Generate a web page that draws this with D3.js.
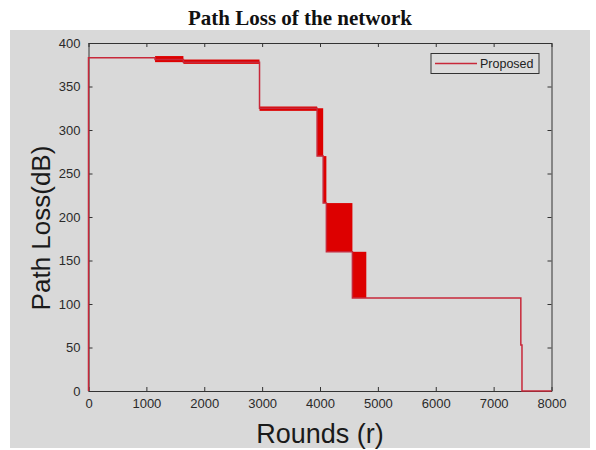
<!DOCTYPE html>
<html><head><meta charset="utf-8">
<script src="https://cdn.jsdelivr.net/npm/d3@7"></script>
<style>body{margin:0;background:#fff}svg{display:block}</style>
</head><body>
<svg id="c" width="596" height="450"></svg>
<script>
// ---- data ----
const xTicks = [0,1000,2000,3000,4000,5000,6000,7000,8000];
const yTicks = [0,50,100,150,200,250,300,350,400];
// thin step line (Proposed) vertices
const lineRounds = [0, 0, 1150, 1150, 1640, 1640, 2955, 2955, 3950, 3950, 4055, 4055, 4110, 4110, 4560, 4560, 4800, 7470, 7470, 7490, 7490, 8000];
const lineValues = [0, 383, 383, 381, 381, 378, 378, 325, 325, 270, 270, 216, 216, 160, 160, 107, 107, 107, 53, 53, 0, 0];
// regions where the series oscillates rapidly (drawn as filled bands)
const bandStart = [1150, 1640, 2955, 3950, 4055, 4110, 4560];
const bandEnd   = [1640, 2955, 3950, 4055, 4110, 4560, 4800];
const bandHigh  = [385, 381, 327, 325, 270, 216, 160];
const bandLow   = [378, 376, 322, 270, 216, 160, 107];
const seriesName = "Proposed";

const svg = d3.select("#c");
const L = 88.5, R = 551.5, T = 43, B = 391;
const x = d3.scaleLinear().domain([0,8000]).range([L,R]);
const y = d3.scaleLinear().domain([0,400]).range([B,T]);

svg.append("rect").attr("x",10).attr("y",30).attr("width",580).attr("height",418).attr("fill","#d9d9d9");

svg.append("text").attr("x",300).attr("y",25).attr("text-anchor","middle")
  .attr("font-family","Liberation Serif, Times New Roman, serif").attr("font-weight","bold")
  .attr("font-size",21).attr("fill","#111").text("Path Loss of the network");

const axisCol = "#333";
const gx = svg.append("g").attr("transform",`translate(0,${B})`)
  .call(d3.axisBottom(x).tickValues(xTicks).tickSize(-4).tickSizeOuter(0).tickPadding(8).tickFormat(d3.format("d")));
const gxt = svg.append("g").attr("transform",`translate(0,${T})`)
  .call(d3.axisTop(x).tickValues(xTicks).tickSize(-4).tickSizeOuter(0).tickFormat(""));
const gy = svg.append("g").attr("transform",`translate(${L},0)`)
  .call(d3.axisLeft(y).tickValues(yTicks).tickSize(-4).tickSizeOuter(0).tickPadding(8).tickFormat(d3.format("d")));
const gyr = svg.append("g").attr("transform",`translate(${R},0)`)
  .call(d3.axisRight(y).tickValues(yTicks).tickSize(-4).tickSizeOuter(0).tickFormat(""));
[gx,gxt,gy,gyr].forEach(g=>{
  g.selectAll("path,line").attr("stroke",axisCol);
  g.selectAll("text").attr("font-family","Liberation Sans, Arial, sans-serif").attr("font-size",13).attr("fill","#2a2a2a");
});

// bands
svg.append("g").selectAll("rect").data(bandStart.map((s,i)=>i)).join("rect")
  .attr("x",i=>x(bandStart[i])).attr("width",i=>x(bandEnd[i])-x(bandStart[i]))
  .attr("y",i=>y(bandHigh[i])).attr("height",i=>y(bandLow[i])-y(bandHigh[i]))
  .attr("fill","#dd0000");

const pts = lineRounds.map((r,i)=>[r,lineValues[i]]);
svg.append("path").datum(pts)
  .attr("d",d3.line().x(d=>x(d[0])).y(d=>y(d[1])))
  .attr("fill","none").attr("stroke","#c8283a").attr("stroke-width",1.5);

// legend
const lg = svg.append("g");
lg.append("rect").attr("x",431).attr("y",53.5).attr("width",108).attr("height",20)
  .attr("fill","#dcdcdc").attr("stroke","#333").attr("stroke-width",1);
lg.append("line").attr("x1",435).attr("x2",477).attr("y1",63.5).attr("y2",63.5)
  .attr("stroke","#c8283a").attr("stroke-width",1.5);
lg.append("text").attr("x",480).attr("y",68).attr("font-family","Liberation Sans, Arial, sans-serif")
  .attr("font-size",12.5).attr("fill","#222").text(seriesName);

// axis labels
svg.append("text").attr("x",320).attr("y",443).attr("text-anchor","middle")
  .attr("font-family","Liberation Sans, Arial, sans-serif").attr("font-size",27).attr("fill","#1a1a1a").text("Rounds (r)");
svg.append("text").attr("transform","translate(50,228) rotate(-90)").attr("text-anchor","middle")
  .attr("font-family","Liberation Sans, Arial, sans-serif").attr("font-size",26).attr("fill","#1a1a1a").text("Path Loss(dB)");
</script>
</body></html>
